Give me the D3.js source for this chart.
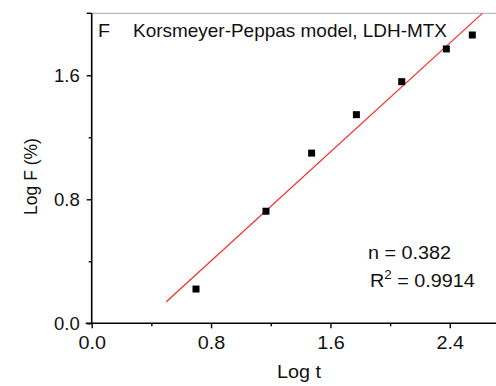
<!DOCTYPE html>
<html>
<head>
<meta charset="utf-8">
<script src="https://cdn.jsdelivr.net/npm/d3@7/dist/d3.min.js"></script>
<style>
  html, body { margin: 0; padding: 0; background: #ffffff; }
  svg { display: block; font-family: "Liberation Sans", Arial, sans-serif; }
</style>
</head>
<body>
<svg id="chart" width="496" height="386"></svg>
<script>
// Korsmeyer-Peppas release data (log time vs log fraction released)
const logT = [0.699, 1.168, 1.474, 1.774, 2.078, 2.377, 2.551];
const logF = [0.221, 0.723, 1.098, 1.346, 1.559, 1.770, 1.860];

// Fitted line end points
const fitX = [0.50, 2.618];
const fitY = [0.139, 2.000];

const xTicks = [0.0, 0.8, 1.6, 2.4];
const xMinorTicks = [0.4, 1.2, 2.0];
const yTicks = [0.0, 0.8, 1.6];
const yMinorTicks = [0.4, 1.2];

const panelLabel = "F";
const titleText = "Korsmeyer-Peppas model, LDH-MTX";
const nText = "n = 0.382";
const r2Value = "0.9914";

const svg = d3.select("#chart");
const plotLeft = 91.7, plotBottom = 323.3, plotTop = 13.3;
const fs = 18.5;
const stretch = 1.07; // slightly wide lettering

const x = d3.scaleLinear().domain([0, 2.8]).range([plotLeft, plotLeft + 149.2 * 2.8]);
const y = d3.scaleLinear().domain([0, 2.0]).range([plotBottom, plotBottom - 155.0 * 2.0]);

const fmt = d3.format(".1f");

// Top frame line
svg.append("line")
  .attr("x1", plotLeft).attr("x2", 496)
  .attr("y1", plotTop).attr("y2", plotTop)
  .attr("stroke", "#aaaaaa").attr("stroke-width", 1);

// Bottom axis
const gx = svg.append("g").attr("transform", `translate(0,${plotBottom})`);
gx.call(d3.axisBottom(x).tickValues(xTicks).tickFormat(fmt).tickSize(5).tickSizeOuter(0));
gx.append("g").call(d3.axisBottom(x).tickValues(xMinorTicks).tickFormat("").tickSize(3).tickSizeOuter(0))
  .select(".domain").remove();
gx.select(".domain").attr("d", `M${plotLeft - 6},0H496`).attr("stroke-width", 1.6);

// Left axis
const gy = svg.append("g").attr("transform", `translate(${plotLeft},0)`);
gy.call(d3.axisLeft(y).tickValues(yTicks).tickFormat(fmt).tickSize(5).tickSizeOuter(0));
gy.append("g").call(d3.axisLeft(y).tickValues(yMinorTicks).tickFormat("").tickSize(3).tickSizeOuter(0))
  .select(".domain").remove();
gy.select(".domain").attr("d", `M0,${plotBottom}V${plotTop}`).attr("stroke-width", 1.6);
gy.append("line").attr("x1", -5).attr("x2", 0).attr("y1", plotTop).attr("y2", plotTop)
  .attr("stroke", "#000").attr("stroke-width", 1.4);

svg.selectAll(".tick line").attr("stroke", "#000").attr("stroke-width", 1.4);
svg.selectAll(".tick text")
  .attr("font-size", fs).attr("fill", "#111")
  .attr("font-family", "Liberation Sans, Arial, sans-serif");
gx.selectAll(".tick text").attr("y", 26).attr("dy", 0)
  .attr("transform", `scale(${stretch},1)`).attr("x", 0);
gy.selectAll(".tick text").attr("x", -12).attr("dy", "0.35em");

// Helper: horizontally stretched text anchored at (px, py)
function wideText(px, py, anchor) {
  return svg.append("text")
    .attr("transform", `translate(${px},${py}) scale(${stretch},1)`)
    .attr("text-anchor", anchor || "start")
    .attr("font-size", fs).attr("fill", "#111");
}

// Axis titles
wideText(299, 378, "middle").text("Log t");
svg.append("text")
  .attr("transform", "translate(37,176.5) rotate(-90)")
  .attr("text-anchor", "middle").attr("font-size", 17.5).attr("fill", "#111")
  .text("Log F (%)");

// Fit line
svg.append("line")
  .attr("x1", x(fitX[0])).attr("y1", y(fitY[0]))
  .attr("x2", x(fitX[1])).attr("y2", y(fitY[1]))
  .attr("stroke", "#ff2020").attr("stroke-width", 1.1);

// Data points
const pts = logT.map((t, i) => ({ t, f: logF[i] }));
const s = 7;
svg.selectAll("rect.pt").data(pts).enter().append("rect")
  .attr("class", "pt")
  .attr("x", d => x(d.t) - s / 2).attr("y", d => y(d.f) - s / 2)
  .attr("width", s).attr("height", s)
  .attr("fill", "#000");

// Panel label and title
wideText(98, 37).text(panelLabel);
svg.append("text").attr("x", 133).attr("y", 37)
  .attr("font-size", fs).attr("fill", "#111")
  .attr("textLength", 314).attr("lengthAdjust", "spacingAndGlyphs")
  .text(titleText);

// Fit statistics
wideText(368, 259).text(nText);
const r2 = wideText(370, 287);
r2.append("tspan").text("R");
r2.append("tspan").attr("font-size", 12.5).attr("dy", -8).text("2");
r2.append("tspan").attr("dy", 8).text(" = " + r2Value);
</script>
</body>
</html>
